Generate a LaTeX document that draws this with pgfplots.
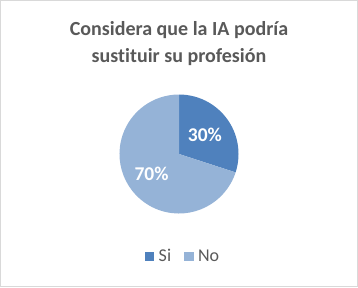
\documentclass[border=0pt]{standalone}
\usepackage{pgfplots}
\usepackage{pgfplotstable}
\pgfplotsset{compat=1.18}
\usetikzlibrary{calc}
\usepackage{fontspec}
\setmainfont{Carlito}[Ligatures=NoCommon]
\definecolor{sicol}{HTML}{4F81BD}
\definecolor{nocol}{HTML}{95B3D7}
\definecolor{txt}{HTML}{595959}
\definecolor{frame}{HTML}{D9D9D9}
\pgfplotstableread{
label value
Si 30
No 70
}\piedata
\newcommand\legfont{\fontsize{18}{21}\selectfont}
\begin{document}
\begin{tikzpicture}
\pgfplotstablegetelem{0}{value}\of\piedata \let\vSi\pgfplotsretval
\pgfplotstablegetelem{1}{value}\of\piedata \let\vNo\pgfplotsretval
\pgfmathsetmacro\aA{90}
\pgfmathsetmacro\aB{90-3.6*\vSi}
\pgfmathsetmacro\aC{\aB-3.6*\vNo}
\pgfmathsetmacro\mSi{(\aA+\aB)/2}
\pgfmathsetmacro\mNo{(\aB+\aC)/2}
\begin{axis}[
  width=358pt, height=287pt, scale only axis,
  xmin=0, xmax=358, ymin=0, ymax=287,
  hide axis, clip=false,
  legend columns=2,
  legend style={at={(axis cs:182,31)}, anchor=center, draw=none, fill=none,
    text=txt,
    nodes={inner xsep=0pt, inner ysep=1pt},
    /tikz/every odd column/.append style={column sep=5pt},
    /tikz/every even column/.append style={column sep=13pt}},
  legend image code/.code={\fill[#1] (0pt,-4pt) rectangle (8.5pt,4pt);},
]
\draw[frame, line width=1pt] (axis cs:0.5,0.5) rectangle (axis cs:357.5,286.5);
\addplot[draw=none, forget plot] coordinates {(0,0)};
\fill[sicol] (axis cs:179,133) -- ++(\aA:59.5) arc[start angle=\aA, end angle=\aB, radius=59.5] -- cycle;
\fill[nocol] (axis cs:179,133) -- ++(\aB:59.5) arc[start angle=\aB, end angle=\aC, radius=59.5] -- cycle;
\node[text=white, font=\bfseries\fontsize{19.5}{22}\selectfont] at ($(axis cs:179,133)+(\mSi:32)$) {\vSi\%};
\node[text=white, font=\bfseries\fontsize{19.5}{22}\selectfont] at ($(axis cs:179,133)+(\mNo:34)$) {\vNo\%};
\node[anchor=base, text=txt, font=\bfseries\fontsize{20}{24}\selectfont] at (axis cs:179,251) {Considera que la IA podría};
\node[anchor=base, text=txt, font=\bfseries\fontsize{20}{24}\selectfont] at (axis cs:179,225) {sustituir su profesión};
\addlegendimage{sicol}
\addlegendentry{\legfont Si}
\addlegendimage{nocol}
\addlegendentry{\legfont No}
\end{axis}
\end{tikzpicture}
\end{document}
